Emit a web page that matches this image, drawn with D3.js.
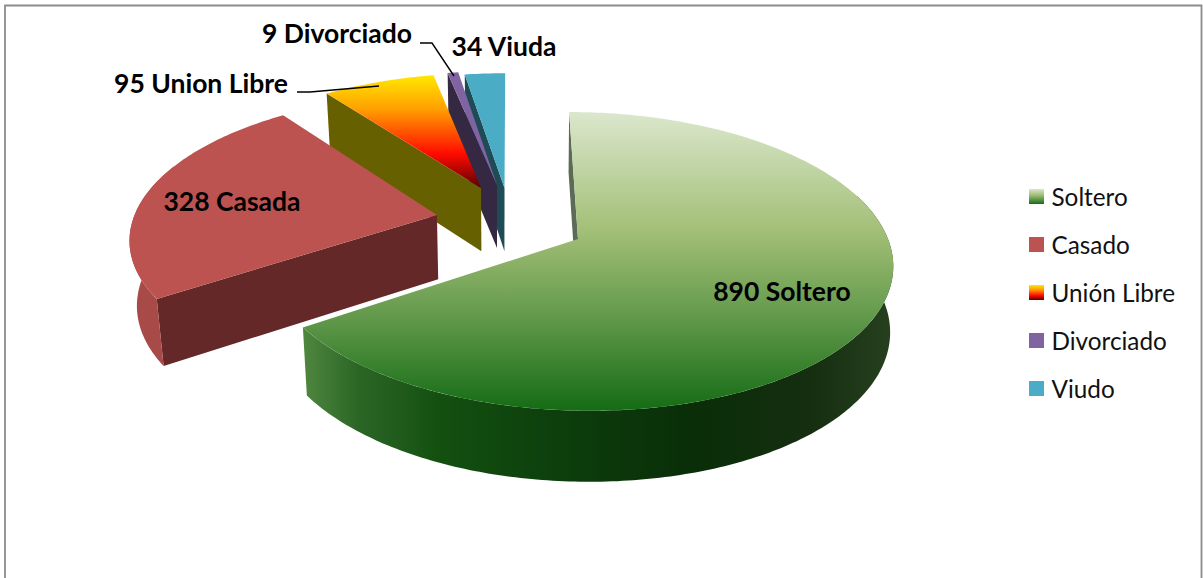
<!DOCTYPE html>
<html><head><meta charset="utf-8">
<script src="https://cdnjs.cloudflare.com/ajax/libs/d3/7.8.5/d3.min.js"></script>
<style>html,body{margin:0;padding:0;background:#fff}svg{display:block}text{font-family:Lato,Carlito,sans-serif}</style>
</head><body><div id="c"></div>
<script>
const categories = ["Soltero","Casado","Unión Libre","Divorciado","Viudo"];
const values = [890,328,95,9,34];
const dataLabels = ["890 Soltero","328 Casada","95 Union Libre","9 Divorciado","34 Viuda"];
// layout: explosion of each slice, in radius units (sideways, towards viewer)
const explodeX = [0,-0.461,-0.318,-0.264,-0.2381];
const explodeD = [0,-0.1685,-0.3686,-0.3916,-0.3686];
const W=1203,H=578;
const svg=d3.select("#c").append("svg").attr("width",W).attr("height",H);
const defs=svg.append("defs");
function grad(id,stops,attrs){
  const g=defs.append("linearGradient").attr("id",id);
  Object.entries(attrs).forEach(([k,v])=>g.attr(k,v));
  stops.forEach(s=>g.append("stop").attr("offset",s[0]).attr("stop-color",s[1]));
}
const vert={x1:0,y1:0,x2:0,y2:1};
const mossStops=[[0,"#dbe7cd"],[0.4,"#a2bf76"],[0.7,"#5f9749"],[1,"#146c14"]];
const fireStops=[[0,"#ffe800"],[0.3,"#ffa000"],[0.7,"#ff0a00"],[1,"#5a0000"]];
grad("moss",mossStops,vert); grad("fire",fireStops,vert);
grad("mossLeg",mossStops,vert); grad("fireLeg",fireStops,vert);
grad("mossWall",[[0,"#4e863e"],[0.09,"#2c6626"],[0.23,"#135010"],[0.46,"#0c3c0c"],[0.66,"#0a2e08"],[0.86,"#152e10"],[1,"#26401f"]],
  {gradientUnits:"userSpaceOnUse",x1:305,x2:892,y1:0,y2:0});
const topFill=["url(#moss)","#bc5350","url(#fire)","#8064a2","#4bacc6"];
const sideFill=["#5c6b55","#632827","#666000","#352842","#1f4b57"];
const rimFill=["url(#mossWall)","#a84a47","#666000","#352842","#1f4b57"];

const A=310,B=146,P=0.15,ox=578,oy=239,vx=510,zx=500,zqL=0.02,zqR=0.008;
function project(x,d,low){
  const s=1/(1-P*d), xw=ox+A*x;
  let sx=vx+(xw-vx)*s, sy=oy+B*d*s;
  if(low){ sx-= (sx-zx)*(sx<zx?zqL:zqR); sy+=31+34*s; }
  return [sx,sy];
}
const arcs=d3.pie().sort(null).value(d=>d)(values);
const pts=(i,a0,a1,low)=>{
  const n=Math.max(2,Math.ceil(Math.abs(a1-a0)/0.015)),out=[];
  for(let k=0;k<=n;k++){const t=a0+(a1-a0)*k/n;out.push(project(explodeX[i]+Math.sin(t),explodeD[i]-Math.cos(t),low));}
  return out;
};
const line=d3.line();
const apex=(i,low)=>project(explodeX[i],explodeD[i],low);
const order=[4,3,2,1,0];
const g=svg.append("g");
order.forEach(i=>{
  const a=arcs[i],a0=a.startAngle,a1=a.endAngle;
  // radial wall at slice start
  const rimTop=pts(i,a0,a0,false)[0],rimLow=pts(i,a0,a0,true)[0];
  const s=[rimTop,apex(i,false),apex(i,true),rimLow];
  g.append("path").attr("d",line(s)+"Z").attr("fill",sideFill[i]);
  // outer wall on the viewer's side
  const front0=Math.max(a0,Math.PI*0.4), front1=Math.min(a1,Math.PI*1.62);
  if(front1>front0){
    const t=pts(i,front0,front1,false),b=pts(i,front0,front1,true).reverse();
    g.append("path").attr("d",line(t.concat(b))+"Z").attr("fill",rimFill[i]);
  }
  // top face
  const top=[apex(i,false)].concat(pts(i,a0,a1,false));
  g.append("path").attr("d",line(top)+"Z").attr("fill",topFill[i]);
});
// chart frame
svg.append("path").attr("d","M5,"+H+"V5.5H1201.5V"+H).attr("fill","none").attr("stroke","#8c8c8c").attr("stroke-width",1.8);
// leaders
const leaders=[[[297,92],[310,92],[379,86]],[[420,43],[432,43],[454,76]]];
svg.selectAll(".ld").data(leaders).join("path").attr("d",d=>line(d)).attr("fill","none").attr("stroke","#000").attr("stroke-width",1.4);
// labels
const labelPos=[[782,292],[232,202],[201,84],[337,34],[504,47]];
svg.selectAll(".dl").data(dataLabels).join("text").attr("class","dl")
  .attr("x",(d,i)=>labelPos[i][0]).attr("y",(d,i)=>labelPos[i][1]+9)
  .attr("text-anchor","middle").attr("font-weight",700).attr("font-size",26.5).attr("fill","#000").text(d=>d);
// legend
const legY=d3.scalePoint().domain(categories).range([197,389]);
const legFill=["url(#mossLeg)","#bc5350","url(#fireLeg)","#8064a2","#4bacc6"];
const leg=svg.selectAll(".lg").data(categories).join("g").attr("transform",d=>`translate(1029,${legY(d)})`);
leg.append("rect").attr("x",0).attr("y",-8).attr("width",15).attr("height",15).attr("fill",(d,i)=>legFill[i]);
leg.append("text").attr("x",22.5).attr("y",9).attr("font-size",24.3).attr("fill","#111").text(d=>d);
</script></body></html>
